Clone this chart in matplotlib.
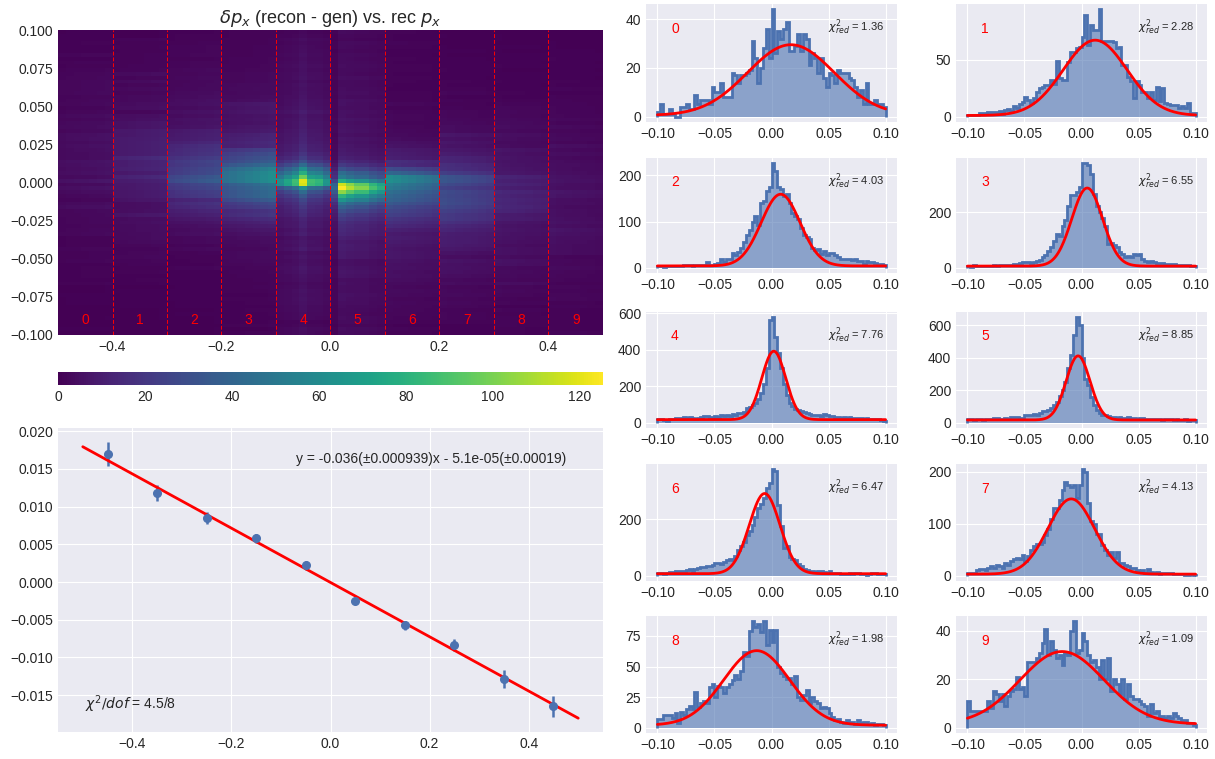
import numpy as np
import matplotlib
matplotlib.use('Agg')
import matplotlib.pyplot as plt

plt.style.use('seaborn-v0_8-darkgrid')
plt.rcParams['font.family'] = ['Liberation Sans', 'DejaVu Sans']
plt.rcParams['xtick.labelsize'] = 10
plt.rcParams['ytick.labelsize'] = 10

# slice histograms of delta p_x (80 bins from -0.1 to 0.1), one per rec p_x slice
hist_counts = [
    [2, 5, 1, 1, 3, 1, 0, 0, 4, 4, 5, 3, 3, 9, 5, 7, 7, 7, 5, 12,
     10, 10, 14, 8, 8, 8, 18, 17, 14, 17, 17, 18, 19, 31, 24, 14, 20, 28, 36, 24,
     44, 26, 35, 32, 36, 39, 27, 27, 29, 34, 27, 34, 32, 21, 26, 24, 18, 24, 16, 12,
     18, 17, 14, 19, 18, 18, 18, 16, 15, 12, 8, 11, 5, 14, 5, 5, 7, 5, 5, 4],
    [1, 1, 1, 1, 3, 3, 3, 4, 4, 4, 4, 5, 2, 6, 7, 5, 9, 8, 11, 13,
     17, 15, 12, 16, 22, 25, 26, 28, 28, 32, 29, 49, 34, 32, 32, 48, 57, 57, 60, 61,
     70, 89, 63, 80, 76, 76, 94, 66, 66, 66, 66, 65, 60, 61, 45, 45, 35, 31, 16, 31,
     28, 22, 22, 16, 22, 15, 26, 14, 25, 12, 11, 10, 10, 10, 8, 9, 8, 12, 3, 3],
    [3, 3, 2, 3, 3, 4, 3, 4, 4, 5, 5, 5, 4, 5, 5, 5, 5, 12, 6, 7,
     8, 10, 19, 12, 19, 19, 31, 28, 34, 42, 55, 70, 82, 100, 112, 92, 140, 145, 165, 175,
     226, 210, 175, 170, 155, 160, 140, 118, 112, 105, 85, 70, 67, 63, 42, 38, 40, 30, 37, 27,
     33, 32, 27, 24, 20, 19, 18, 20, 17, 19, 14, 14, 9, 14, 13, 13, 10, 8, 8, 6],
    [7, 3, 9, 6, 5, 6, 7, 5, 7, 9, 6, 9, 10, 9, 10, 11, 12, 14, 17, 20,
     22, 22, 18, 22, 25, 29, 38, 47, 60, 75, 95, 120, 115, 150, 170, 220, 260, 260, 270, 290,
     375, 375, 370, 335, 265, 220, 200, 180, 150, 85, 90, 80, 75, 55, 48, 40, 43, 40, 48, 45,
     50, 30, 25, 22, 23, 22, 18, 18, 18, 14, 13, 12, 12, 10, 10, 10, 9, 9, 8, 8],
    [20, 22, 15, 12, 20, 22, 25, 25, 28, 30, 28, 30, 25, 22, 28, 30, 35, 38, 32, 30,
     35, 30, 45, 38, 40, 35, 50, 45, 55, 55, 60, 78, 85, 95, 110, 130, 165, 210, 300, 565,
     578, 470, 380, 300, 210, 150, 110, 90, 75, 70, 62, 58, 55, 50, 45, 45, 42, 38, 48, 40,
     36, 35, 32, 30, 28, 30, 25, 30, 28, 25, 28, 25, 22, 25, 22, 20, 18, 22, 15, 12],
    [20, 22, 15, 20, 22, 18, 20, 22, 25, 28, 30, 25, 25, 28, 25, 35, 38, 35, 30, 30,
     45, 45, 50, 52, 48, 58, 70, 75, 80, 90, 110, 130, 165, 200, 250, 340, 420, 540, 650, 600,
     400, 270, 230, 160, 110, 80, 60, 50, 45, 40, 35, 38, 30, 35, 32, 30, 35, 28, 30, 25,
     28, 30, 22, 25, 22, 20, 20, 25, 18, 20, 22, 20, 18, 20, 15, 18, 20, 12, 15, 18],
    [8, 10, 6, 10, 12, 14, 15, 16, 18, 15, 20, 22, 18, 22, 28, 32, 30, 35, 33, 38,
     45, 45, 42, 48, 55, 60, 55, 70, 90, 105, 120, 145, 160, 180, 210, 240, 255, 275, 310, 330,
     378, 372, 250, 175, 100, 105, 68, 60, 55, 40, 35, 25, 20, 18, 15, 12, 15, 15, 12, 8,
     15, 8, 8, 8, 5, 6, 7, 8, 6, 8, 8, 6, 7, 4, 5, 8, 10, 6, 6, 7],
    [5, 5, 5, 10, 12, 12, 10, 15, 18, 15, 20, 18, 15, 25, 20, 28, 33, 35, 33, 40,
     28, 38, 50, 58, 62, 62, 65, 78, 90, 110, 130, 130, 145, 165, 180, 175, 170, 175, 150, 175,
     205, 200, 140, 105, 100, 80, 80, 60, 50, 40, 45, 35, 45, 25, 25, 20, 18, 15, 15, 10,
     8, 10, 6, 12, 8, 6, 7, 4, 5, 6, 5, 5, 4, 3, 4, 3, 2, 2, 3, 2],
    [7, 7, 10, 10, 10, 8, 12, 4, 13, 10, 15, 18, 15, 29, 17, 20, 22, 20, 33, 36,
     25, 34, 33, 28, 33, 36, 39, 43, 40, 46, 62, 59, 79, 87, 82, 85, 78, 87, 68, 80,
     70, 80, 50, 45, 42, 40, 41, 36, 42, 25, 23, 27, 31, 20, 25, 22, 20, 16, 17, 16,
     12, 9, 6, 7, 5, 4, 6, 5, 5, 3, 6, 4, 5, 5, 3, 4, 2, 3, 3, 2],
    [11, 7, 7, 7, 7, 7, 7, 11, 8, 15, 14, 11, 14, 9, 13, 15, 16, 21, 16, 17,
     13, 27, 27, 27, 29, 31, 35, 41, 30, 36, 32, 29, 30, 26, 31, 30, 40, 44, 31, 32,
     39, 36, 30, 27, 28, 25, 20, 28, 20, 29, 15, 20, 18, 14, 20, 12, 18, 13, 12, 12,
     11, 10, 9, 5, 10, 6, 7, 4, 5, 4, 5, 4, 6, 5, 4, 3, 3, 2, 2, 1],
]

# gaussian + constant fit parameters for each slice
fit_amp = [29, 66, 155, 280, 375, 395, 285, 145, 61, 30]
fit_mean = [0.017, 0.012, 0.008, 0.005, 0.002, -0.003, -0.006, -0.009, -0.013, -0.017]
fit_sigma = [0.038, 0.028, 0.017, 0.0135, 0.0105, 0.0105, 0.0135, 0.0205, 0.029, 0.037]
fit_const = [0.5, 1, 4, 6, 17, 17, 7, 3, 2, 1.5]
chi2_red = ['1.36', '2.28', '4.03', '6.55', '7.76', '8.85', '6.47', '4.13', '1.98', '1.09']

# relative share of each slice going into its 7 heatmap columns
col_weight = [
    [0.8, 0.9, 0.95, 1.0, 1.05, 1.1, 1.2],
    [0.85, 0.9, 0.95, 1.0, 1.05, 1.1, 1.15],
    [0.85, 0.9, 0.95, 1.0, 1.05, 1.1, 1.15],
    [0.85, 0.9, 0.95, 1.0, 1.05, 1.1, 1.15],
    [0.75, 0.9, 1.05, 1.45, 1.05, 1.0, 0.8],
    [0.45, 1.35, 1.2, 1.1, 1.1, 0.95, 0.85],
    [1.15, 1.1, 1.05, 1.0, 0.95, 0.9, 0.85],
    [1.15, 1.1, 1.05, 1.0, 0.95, 0.9, 0.85],
    [1.15, 1.1, 1.05, 1.0, 0.95, 0.9, 0.85],
    [1.2, 1.1, 1.05, 1.0, 0.95, 0.9, 0.8],
]

# fitted means vs slice centre
slice_x = [-0.45, -0.35, -0.25, -0.15, -0.05, 0.05, 0.15, 0.25, 0.35, 0.45]
mean_y = [0.0170, 0.0118, 0.0085, 0.0058, 0.0022, -0.0025, -0.0057, -0.0084, -0.0128, -0.0165]
mean_err = [0.0016, 0.0011, 0.0008, 0.0006, 0.0006, 0.0004, 0.0006, 0.0008, 0.0012, 0.0014]
slope, intercept = -0.036, -5.1e-05

W, H = 1215, 759
C0 = '#4C72B0'


def box(l, t, r, b):
    return [l / W, 1 - b / H, (r - l) / W, (b - t) / H]


fig = plt.figure(figsize=(W / 100, H / 100), dpi=100)

# 2D histogram
y_edges = np.linspace(-0.1, 0.1, 81)
x_edges = np.linspace(-0.5, 0.5, 71)
counts2d = np.zeros((80, 70))
for i in range(10):
    w = np.array(col_weight[i]) / np.sum(col_weight[i])
    counts2d[:, i * 7:(i + 1) * 7] = np.outer(hist_counts[i], w)

ax = fig.add_axes(box(58, 30, 603, 335))
mesh = ax.pcolormesh(x_edges, y_edges, counts2d, cmap='viridis', vmin=0)
for xv in np.arange(-0.4, 0.45, 0.1):
    ax.axvline(xv, color='red', ls=(0, (4, 2)), lw=0.7)
for i in range(10):
    ax.text(slice_x[i], -0.09, str(i), color='red', ha='center', va='center', fontsize=10)
ax.set_xlim(-0.5, 0.5)
ax.set_ylim(-0.1, 0.1)
ax.set_yticks(np.arange(-0.1, 0.1001, 0.025))
ax.set_xticks([-0.4, -0.2, 0.0, 0.2, 0.4])
ax.set_title(r'$\delta p_x$ (recon - gen) vs. rec $p_x$', fontsize=13, pad=5)
ax.grid(False)

cax = fig.add_axes(box(58, 372, 603, 385))
cb = fig.colorbar(mesh, cax=cax, orientation='horizontal')
cb.outline.set_visible(False)
cb.set_ticks([0, 20, 40, 60, 80, 100, 120])

# mean vs rec p_x
ax = fig.add_axes(box(58, 428, 603, 732))
ax.errorbar(slice_x, mean_y, yerr=mean_err, fmt='o', color=C0, ms=5.5, elinewidth=1.8)
xl = np.array([-0.5, 0.5])
ax.plot(xl, slope * xl + intercept, color='red', lw=2)
ax.text(-0.07, 0.0163, 'y = -0.036(±0.000939)x - 5.1e-05(±0.00019)', fontsize=10, va='center')
ax.text(-0.495, -0.0162, r'$\chi^2/dof$ = 4.5/8', fontsize=10, va='center')
ax.set_xticks([-0.4, -0.2, 0.0, 0.2, 0.4])

# slice histograms
centers = (y_edges[:-1] + y_edges[1:]) / 2
xs = np.linspace(-0.1, 0.1, 300)
cols = [(646, 897), (956, 1207)]
rows = [(4, 122), (158, 273), (312, 428), (464, 581), (616, 733)]
for i in range(10):
    l, r = cols[i % 2]
    t, b = rows[i // 2]
    ax = fig.add_axes(box(l, t, r, b))
    ax.hist(centers, bins=y_edges, weights=hist_counts[i], histtype='stepfilled', color=C0, alpha=0.6)
    ax.hist(centers, bins=y_edges, weights=hist_counts[i], histtype='step', color=C0, lw=2)
    fit = fit_const[i] + fit_amp[i] * np.exp(-(xs - fit_mean[i]) ** 2 / (2 * fit_sigma[i] ** 2))
    ax.plot(xs, fit, color='red', lw=2)
    ax.use_sticky_edges = False
    ax.autoscale()
    ax.set_xticks([-0.1, -0.05, 0.0, 0.05, 0.1])
    ax.text(0.1, 0.79, str(i), color='red', fontsize=10, transform=ax.transAxes, va='center')
    ax.text(0.725, 0.8, r'$\chi^2_{red}$ = ' + chi2_red[i], fontsize=8, transform=ax.transAxes, va='center')

fig.savefig('out.png', dpi=100)
